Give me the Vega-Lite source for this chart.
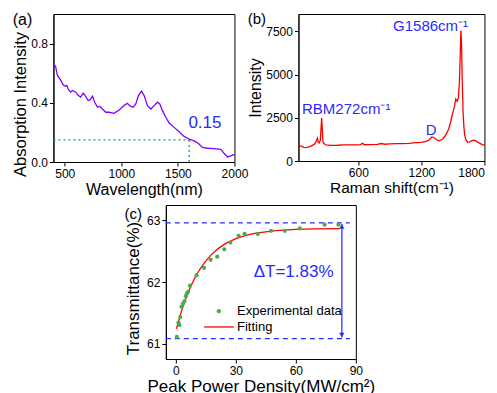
{
  "$schema": "https://vega.github.io/schema/vega-lite/v6.json",
  "padding": {"left": 12, "top": 11, "right": 0, "bottom": 0},
  "config": {
    "font": "Liberation Sans",
    "view": {"stroke": "#000", "strokeWidth": 1},
    "axis": {"domainColor": "#000", "tickColor": "#000", "labelColor": "#000", "titleColor": "#000", "grid": false, "labelFontSize": 12, "titleFontWeight": "normal", "labelFlush": false, "labelOverlap": false, "tickSize": 4, "labelPadding": 2, "titlePadding": 2, "domainWidth": 1, "tickWidth": 1},
    "title": {"anchor": "start", "frame": "bounds", "fontSize": 16, "fontWeight": "normal", "offset": 0, "color": "#000"}
  },
  "datasets": {
    "absorb": [
      {"wavelength": 404, "absorbance": 0.664}, {"wavelength": 420, "absorbance": 0.642}, {"wavelength": 435, "absorbance": 0.585},
      {"wavelength": 465, "absorbance": 0.551}, {"wavelength": 486, "absorbance": 0.521}, {"wavelength": 503, "absorbance": 0.512},
      {"wavelength": 518, "absorbance": 0.517}, {"wavelength": 533, "absorbance": 0.489}, {"wavelength": 553, "absorbance": 0.472},
      {"wavelength": 568, "absorbance": 0.483}, {"wavelength": 597, "absorbance": 0.472}, {"wavelength": 621, "absorbance": 0.449},
      {"wavelength": 641, "absorbance": 0.438}, {"wavelength": 663, "absorbance": 0.465}, {"wavelength": 680, "absorbance": 0.449},
      {"wavelength": 707, "absorbance": 0.415}, {"wavelength": 724, "absorbance": 0.419}, {"wavelength": 745, "absorbance": 0.444},
      {"wavelength": 765, "absorbance": 0.404}, {"wavelength": 789, "absorbance": 0.37}, {"wavelength": 809, "absorbance": 0.377},
      {"wavelength": 833, "absorbance": 0.358}, {"wavelength": 863, "absorbance": 0.336}, {"wavelength": 892, "absorbance": 0.336},
      {"wavelength": 936, "absorbance": 0.329}, {"wavelength": 980, "absorbance": 0.351}, {"wavelength": 1024, "absorbance": 0.381},
      {"wavelength": 1053, "absorbance": 0.397}, {"wavelength": 1074, "absorbance": 0.381}, {"wavelength": 1104, "absorbance": 0.37},
      {"wavelength": 1128, "absorbance": 0.392}, {"wavelength": 1151, "absorbance": 0.449}, {"wavelength": 1178, "absorbance": 0.478},
      {"wavelength": 1202, "absorbance": 0.449}, {"wavelength": 1231, "absorbance": 0.381}, {"wavelength": 1261, "absorbance": 0.358},
      {"wavelength": 1290, "absorbance": 0.381}, {"wavelength": 1319, "absorbance": 0.404}, {"wavelength": 1340, "absorbance": 0.392},
      {"wavelength": 1364, "absorbance": 0.347}, {"wavelength": 1393, "absorbance": 0.302}, {"wavelength": 1423, "absorbance": 0.263},
      {"wavelength": 1467, "absorbance": 0.234}, {"wavelength": 1511, "absorbance": 0.204}, {"wavelength": 1555, "absorbance": 0.173},
      {"wavelength": 1600, "absorbance": 0.154}, {"wavelength": 1644, "absorbance": 0.143}, {"wavelength": 1682, "absorbance": 0.125},
      {"wavelength": 1717, "absorbance": 0.098}, {"wavelength": 1761, "absorbance": 0.093}, {"wavelength": 1821, "absorbance": 0.091},
      {"wavelength": 1880, "absorbance": 0.086}, {"wavelength": 1910, "absorbance": 0.057}, {"wavelength": 1939, "absorbance": 0.034},
      {"wavelength": 1967, "absorbance": 0.041}, {"wavelength": 2000, "absorbance": 0.051}
    ],
    "guide_a": [
      {"x": 400, "x2": 1600, "y": 0.15, "y2": 0.15},
      {"x": 1600, "x2": 1600, "y": 0, "y2": 0.15}
    ],
    "raman": [
      {"shift": 30, "intensity": 950}, {"shift": 50, "intensity": 870}, {"shift": 80, "intensity": 790}, {"shift": 100, "intensity": 775},
      {"shift": 130, "intensity": 820}, {"shift": 150, "intensity": 860}, {"shift": 180, "intensity": 960}, {"shift": 200, "intensity": 1150},
      {"shift": 210, "intensity": 1320}, {"shift": 218, "intensity": 1100}, {"shift": 228, "intensity": 1050}, {"shift": 238, "intensity": 1200},
      {"shift": 245, "intensity": 1900}, {"shift": 251, "intensity": 2480}, {"shift": 257, "intensity": 1800}, {"shift": 263, "intensity": 1150},
      {"shift": 270, "intensity": 1020}, {"shift": 290, "intensity": 930}, {"shift": 340, "intensity": 900}, {"shift": 400, "intensity": 910},
      {"shift": 460, "intensity": 930}, {"shift": 520, "intensity": 935}, {"shift": 580, "intensity": 930}, {"shift": 620, "intensity": 950},
      {"shift": 640, "intensity": 1020}, {"shift": 660, "intensity": 940}, {"shift": 720, "intensity": 950}, {"shift": 780, "intensity": 960},
      {"shift": 820, "intensity": 1010}, {"shift": 850, "intensity": 970}, {"shift": 900, "intensity": 990}, {"shift": 960, "intensity": 1000},
      {"shift": 1020, "intensity": 1010}, {"shift": 1080, "intensity": 1020}, {"shift": 1150, "intensity": 1060}, {"shift": 1200, "intensity": 1080},
      {"shift": 1240, "intensity": 1120}, {"shift": 1270, "intensity": 1200}, {"shift": 1300, "intensity": 1390}, {"shift": 1320, "intensity": 1360},
      {"shift": 1340, "intensity": 1240}, {"shift": 1370, "intensity": 1170}, {"shift": 1400, "intensity": 1260}, {"shift": 1420, "intensity": 1400},
      {"shift": 1440, "intensity": 1600}, {"shift": 1460, "intensity": 1850}, {"shift": 1480, "intensity": 2300}, {"shift": 1495, "intensity": 2700},
      {"shift": 1512, "intensity": 3100}, {"shift": 1527, "intensity": 3580}, {"shift": 1540, "intensity": 3450}, {"shift": 1552, "intensity": 3650},
      {"shift": 1562, "intensity": 4600}, {"shift": 1570, "intensity": 6300}, {"shift": 1576, "intensity": 7550}, {"shift": 1582, "intensity": 6800},
      {"shift": 1588, "intensity": 4800}, {"shift": 1596, "intensity": 2900}, {"shift": 1604, "intensity": 2000}, {"shift": 1612, "intensity": 1500},
      {"shift": 1622, "intensity": 1250}, {"shift": 1640, "intensity": 1080}, {"shift": 1660, "intensity": 1100}, {"shift": 1680, "intensity": 1180},
      {"shift": 1700, "intensity": 1200}, {"shift": 1720, "intensity": 1150}, {"shift": 1745, "intensity": 1060}, {"shift": 1770, "intensity": 980},
      {"shift": 1800, "intensity": 900}
    ],
    "raman_labels_left": [
      {"label": "RBM272cm⁻¹", "x": 64, "y": 2733},
      {"label": "G1586cm⁻¹", "x": 930, "y": 7518}
    ],
    "raman_labels_center": [
      {"label": "D", "x": 1292, "y": 1494}
    ],
    "trans_pts": [
      {"power": 0.5, "transmittance": 61.11}, {"power": 1.3, "transmittance": 61.34}, {"power": 1.8, "transmittance": 61.3},
      {"power": 2.2, "transmittance": 61.43}, {"power": 2.8, "transmittance": 61.6}, {"power": 3.6, "transmittance": 61.65},
      {"power": 4.3, "transmittance": 61.69}, {"power": 5.0, "transmittance": 61.77}, {"power": 5.5, "transmittance": 61.81},
      {"power": 6.1, "transmittance": 61.84}, {"power": 7.1, "transmittance": 61.94}, {"power": 10.4, "transmittance": 62.11},
      {"power": 14.1, "transmittance": 62.23}, {"power": 17.4, "transmittance": 62.36}, {"power": 20.7, "transmittance": 62.41},
      {"power": 24.2, "transmittance": 62.53}, {"power": 27.3, "transmittance": 62.64}, {"power": 31.4, "transmittance": 62.75},
      {"power": 34.4, "transmittance": 62.78}, {"power": 41.0, "transmittance": 62.78}, {"power": 47.6, "transmittance": 62.83},
      {"power": 54.5, "transmittance": 62.83}, {"power": 62.0, "transmittance": 62.87}, {"power": 74.4, "transmittance": 62.93},
      {"power": 81.3, "transmittance": 62.93}
    ],
    "trans_fit": [
      {"power": 0.3, "transmittance": 61.238}, {"power": 1, "transmittance": 61.324}, {"power": 2, "transmittance": 61.438},
      {"power": 3, "transmittance": 61.544}, {"power": 4, "transmittance": 61.643}, {"power": 5, "transmittance": 61.733},
      {"power": 6, "transmittance": 61.818}, {"power": 8, "transmittance": 61.968}, {"power": 10, "transmittance": 62.097},
      {"power": 12, "transmittance": 62.207}, {"power": 15, "transmittance": 62.344}, {"power": 18, "transmittance": 62.453},
      {"power": 21, "transmittance": 62.538}, {"power": 25, "transmittance": 62.626}, {"power": 30, "transmittance": 62.704},
      {"power": 35, "transmittance": 62.757}, {"power": 40, "transmittance": 62.793}, {"power": 50, "transmittance": 62.834},
      {"power": 60, "transmittance": 62.853}, {"power": 70, "transmittance": 62.862}, {"power": 82, "transmittance": 62.867}
    ],
    "levels": [
      {"x": -5, "x2": 87, "y": 62.96},
      {"x": -5, "x2": 87, "y": 61.08}
    ],
    "span": [{"x": 83, "y": 61.1, "y2": 62.94}],
    "arrow_top": [{"x": 83, "y": 62.9}],
    "arrow_bottom": [{"x": 83, "y": 61.14}],
    "delta": [{"label": "ΔT=1.83%", "x": 38.9, "y": 62.087}],
    "legend_dot": [{"x": 21.5, "y": 61.526}],
    "legend_line": [{"x": 14.1, "x2": 29.0, "y": 61.27}],
    "legend_text": [
      {"label": "Experimental data", "x": 30.6, "y": 61.526},
      {"label": "Fitting", "x": 30.6, "y": 61.27}
    ]
  },
  "vconcat": [
    {
      "hconcat": [
        {
          "width": 181, "height": 148,
          "title": {"text": "(a)", "fontSize": 16, "dy": 18},
          "layer": [
            {
              "data": {"name": "absorb"},
              "mark": {"type": "line", "color": "#8000ff", "strokeWidth": 1.3},
              "encoding": {
                "x": {"field": "wavelength", "type": "quantitative", "scale": {"domain": [400, 2000], "nice": false, "zero": false},
                  "axis": {"title": "Wavelength(nm)", "titleFontSize": 16, "values": [500, 750, 1000, 1250, 1500, 1750, 2000], "format": "d",
                    "labelExpr": "datum.value % 500 === 0 ? datum.label : ''",
                    "tickSize": {"condition": {"test": "datum.value % 500 !== 0", "value": 2}, "value": 4}}},
                "y": {"field": "absorbance", "type": "quantitative", "scale": {"domain": [0, 1], "nice": false},
                  "axis": {"title": "Absorption Intensity", "titleFontSize": 16.5, "values": [0, 0.2, 0.4, 0.6, 0.8], "format": ".1f",
                    "labelExpr": "(datum.value === 0.2 || datum.value === 0.6) ? '' : datum.label",
                    "tickSize": {"condition": {"test": "datum.value === 0.2 || datum.value === 0.6", "value": 2}, "value": 4},
                    "titleY": 90}}
              }
            },
            {
              "data": {"name": "guide_a"},
              "mark": {"type": "rule", "color": "#009a9a", "strokeDash": [2, 3], "strokeWidth": 1.3},
              "encoding": {
                "x": {"field": "x", "type": "quantitative"}, "x2": {"field": "x2"},
                "y": {"field": "y", "type": "quantitative"}, "y2": {"field": "y2"}
              }
            },
            {
              "data": {"values": [{"label": "0.15", "x": 1593, "y": 0.227}]},
              "mark": {"type": "text", "align": "left", "baseline": "alphabetic", "fontSize": 17, "color": "#2a2aff"},
              "encoding": {
                "x": {"field": "x", "type": "quantitative"},
                "y": {"field": "y", "type": "quantitative"},
                "text": {"field": "label"}
              }
            }
          ]
        },
        {
          "width": 186, "height": 147,
          "title": {"text": "(b)", "fontSize": 15, "dy": 17},
          "layer": [
            {
              "data": {"name": "raman"},
              "mark": {"type": "line", "color": "#ff0000", "strokeWidth": 1.3},
              "encoding": {
                "x": {"field": "shift", "type": "quantitative", "scale": {"domain": [30, 1800], "nice": false, "zero": false},
                  "axis": {"title": "Raman shift(cm⁻¹)", "titleFontSize": 15.5, "values": [600, 1200, 1800], "format": "d", "labelFlush": true}},
                "y": {"field": "intensity", "type": "quantitative", "scale": {"domain": [0, 8500], "nice": false},
                  "axis": {"title": "Intensity", "titleFontSize": 16, "values": [0, 1250, 2500, 3750, 5000, 6250, 7500], "format": "d",
                    "labelExpr": "datum.value % 2500 === 0 ? datum.label : ''",
                    "tickSize": {"condition": {"test": "datum.value % 2500 !== 0", "value": 2}, "value": 4}}}
              }
            },
            {
              "data": {"name": "raman_labels_left"},
              "mark": {"type": "text", "align": "left", "baseline": "alphabetic", "fontSize": 15, "color": "#2a2aff"},
              "encoding": {
                "x": {"field": "x", "type": "quantitative"},
                "y": {"field": "y", "type": "quantitative"},
                "text": {"field": "label"}
              }
            },
            {
              "data": {"name": "raman_labels_center"},
              "mark": {"type": "text", "align": "center", "baseline": "alphabetic", "fontSize": 15, "color": "#2a2aff"},
              "encoding": {
                "x": {"field": "x", "type": "quantitative"},
                "y": {"field": "y", "type": "quantitative"},
                "text": {"field": "label"}
              }
            }
          ]
        }
      ],
      "spacing": -2
    },
    {
      "width": 190, "height": 154,
      "title": {"text": "(c)", "fontSize": 15, "dy": 21},
      "layer": [
        {
          "data": {"name": "levels"},
          "mark": {"type": "rule", "color": "#2a2aff", "strokeDash": [5, 4], "strokeWidth": 1.2},
          "encoding": {
            "x": {"field": "x", "type": "quantitative", "scale": {"domain": [-5, 90], "nice": false, "zero": false},
              "axis": {"title": "Peak Power Density(MW/cm²)", "titleFontSize": 17, "values": [0, 15, 30, 45, 60, 75, 90], "format": "d",
                "labelExpr": "datum.value % 30 === 0 ? datum.label : ''",
                "tickSize": {"condition": {"test": "datum.value % 30 !== 0", "value": 2}, "value": 4}}},
            "x2": {"field": "x2"},
            "y": {"field": "y", "type": "quantitative", "scale": {"domain": [60.75, 63.25], "nice": false, "zero": false},
              "axis": {"title": "Transmittance(%)", "titleFontSize": 17, "values": [61, 61.5, 62, 62.5, 63], "titlePadding": 4, "format": "d",
                "labelExpr": "datum.value % 1 === 0 ? datum.label : ''", "titleY": 83,
                "tickSize": {"condition": {"test": "datum.value % 1 !== 0", "value": 2}, "value": 4}}}
          }
        },
        {
          "data": {"name": "span"},
          "mark": {"type": "rule", "color": "#5252ff", "strokeWidth": 1.5},
          "encoding": {
            "x": {"field": "x", "type": "quantitative"},
            "y": {"field": "y", "type": "quantitative"}, "y2": {"field": "y2"}
          }
        },
        {
          "data": {"name": "arrow_top"},
          "mark": {"type": "point", "shape": "triangle-up", "filled": true, "size": 28, "color": "#2a2aff", "opacity": 1},
          "encoding": {
            "x": {"field": "x", "type": "quantitative"},
            "y": {"field": "y", "type": "quantitative"}
          }
        },
        {
          "data": {"name": "arrow_bottom"},
          "mark": {"type": "point", "shape": "triangle-down", "filled": true, "size": 28, "color": "#2a2aff", "opacity": 1},
          "encoding": {
            "x": {"field": "x", "type": "quantitative"},
            "y": {"field": "y", "type": "quantitative"}
          }
        },
        {
          "data": {"name": "trans_fit"},
          "mark": {"type": "line", "strokeWidth": 1.3, "color": "#ff0000"},
          "encoding": {
            "x": {"field": "power", "type": "quantitative"},
            "y": {"field": "transmittance", "type": "quantitative"}
          }
        },
        {
          "data": {"name": "trans_pts"},
          "mark": {"type": "point", "filled": true, "size": 18, "opacity": 1, "color": "#4caa4c"},
          "encoding": {
            "x": {"field": "power", "type": "quantitative"},
            "y": {"field": "transmittance", "type": "quantitative"}
          }
        },
        {
          "data": {"name": "legend_dot"},
          "mark": {"type": "point", "filled": true, "size": 18, "opacity": 1, "color": "#4caa4c"},
          "encoding": {
            "x": {"field": "x", "type": "quantitative"},
            "y": {"field": "y", "type": "quantitative"}
          }
        },
        {
          "data": {"name": "legend_line"},
          "mark": {"type": "rule", "strokeWidth": 1.3, "color": "#ff0000"},
          "encoding": {
            "x": {"field": "x", "type": "quantitative"}, "x2": {"field": "x2"},
            "y": {"field": "y", "type": "quantitative"}
          }
        },
        {
          "data": {"name": "legend_text"},
          "mark": {"type": "text", "align": "left", "baseline": "middle", "fontSize": 13, "color": "#000"},
          "encoding": {
            "x": {"field": "x", "type": "quantitative"},
            "y": {"field": "y", "type": "quantitative"},
            "text": {"field": "label"}
          }
        },
        {
          "data": {"name": "delta"},
          "mark": {"type": "text", "align": "left", "baseline": "alphabetic", "fontSize": 17, "color": "#2a2aff"},
          "encoding": {
            "x": {"field": "x", "type": "quantitative"},
            "y": {"field": "y", "type": "quantitative"},
            "text": {"field": "label"}
          }
        }
      ]
    }
  ],
  "spacing": 6,
  "center": true
}
